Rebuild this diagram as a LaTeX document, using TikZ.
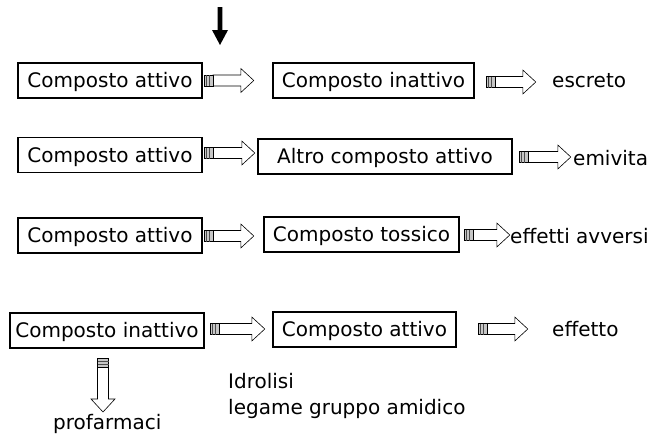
\documentclass[tikz,border=0pt]{standalone}
\usepackage{fontspec}
\setmainfont{DejaVu Sans}
\usetikzlibrary{calc}

% Hollow block arrow with a striped tail, length #1, pointing along +x
\tikzset{
  pics/barrow/.style={code={
    \filldraw[fill=white, draw=black, line width=0.6pt]
      (9,-5.5) -- ({#1-13},-5.5) -- ({#1-13},-12) -- (#1,0)
      -- ({#1-13},12) -- ({#1-13},5.5) -- (9,5.5) -- cycle;
    \filldraw[fill=gray!45, draw=black, line width=0.6pt] (0,-5.5) rectangle (9,5.5);
    \draw[black!70, line width=0.8pt] (3,-5.5) -- (3,5.5) (6,-5.5) -- (6,5.5);
  }},
  box/.style={draw=black, line width=1.6pt, rectangle, inner sep=0pt,
    minimum height=35pt, font=\fontsize{20}{24}\selectfont,
    text height=16pt, text depth=2pt},
  lbl/.style={anchor=base west, inner sep=0pt, font=\fontsize{20}{24}\selectfont}
}

\begin{document}
\begin{tikzpicture}[x=1pt, y=-1pt]
  \useasboundingbox (0,0) rectangle (665,439);

  % bold pointer at the top
  \coordinate (ptr) at (220,7);
  \fill[black] ($(ptr)+(-2.4,0)$) -- ($(ptr)+(2.4,0)$) -- ($(ptr)+(2.4,23)$)
    -- ($(ptr)+(8,23)$) -- ($(ptr)+(0,38)$) -- ($(ptr)+(-8,23)$)
    -- ($(ptr)+(-2.4,23)$) -- cycle;

  % row 1
  \node[box, minimum width=184pt] (a1) at (110,80.5) {Composto attivo};
  \node[box, minimum width=201pt] (b1) at (373.5,80.5) {Composto inattivo};
  \node[lbl] (c1) at (552,87) {escreto};
  \pic at ($(a1.east)+(1,0)$) {barrow=50};
  \pic at ($(b1.east)+(11,1.5)$) {barrow=50};

  % row 2
  \node[box, minimum width=184pt] (a2) at (110,155) {Composto attivo};
  \node[box, minimum width=254pt] (b2) at (385,156.5) {Altro composto attivo};
  \node[lbl] (c2) at (573,165) {emivita};
  \pic at ($(a2.east)+(1,-2)$) {barrow=51};
  \pic at ($(b2.east)+(6,0.5)$) {barrow=52};

  % row 3
  \node[box, minimum width=184pt] (a3) at (110,235.5) {Composto attivo};
  \node[box, minimum width=195pt] (b3) at (361.5,234.5) {Composto tossico};
  \node[lbl] (c3) at (510,243) {effetti avversi};
  \pic at ($(a3.east)+(1,0.5)$) {barrow=50};
  \pic at ($(b3.east)+(4,0.5)$) {barrow=46};

  % row 4
  \node[box, minimum width=194pt] (a4) at (107,330.5) {Composto inattivo};
  \node[box, minimum width=183pt] (b4) at (364.5,329.5) {Composto attivo};
  \node[lbl] (c4) at (552,336) {effetto};
  \pic at ($(a4.east)+(5,-1.5)$) {barrow=55};
  \pic at ($(b4.east)+(21,-0.5)$) {barrow=50};

  % branch below the inactive compound
  \coordinate (d0) at (103,358);
  \pic[rotate=-90] at (d0) {barrow=54};
  \node[lbl] (pf) at (53,429) {profarmaci};

  % note under the second row-4 box
  \node[lbl] (n1) at (228,388) {Idrolisi};
  \node[lbl] (n2) at (228,414) {legame gruppo amidico};
\end{tikzpicture}
\end{document}
